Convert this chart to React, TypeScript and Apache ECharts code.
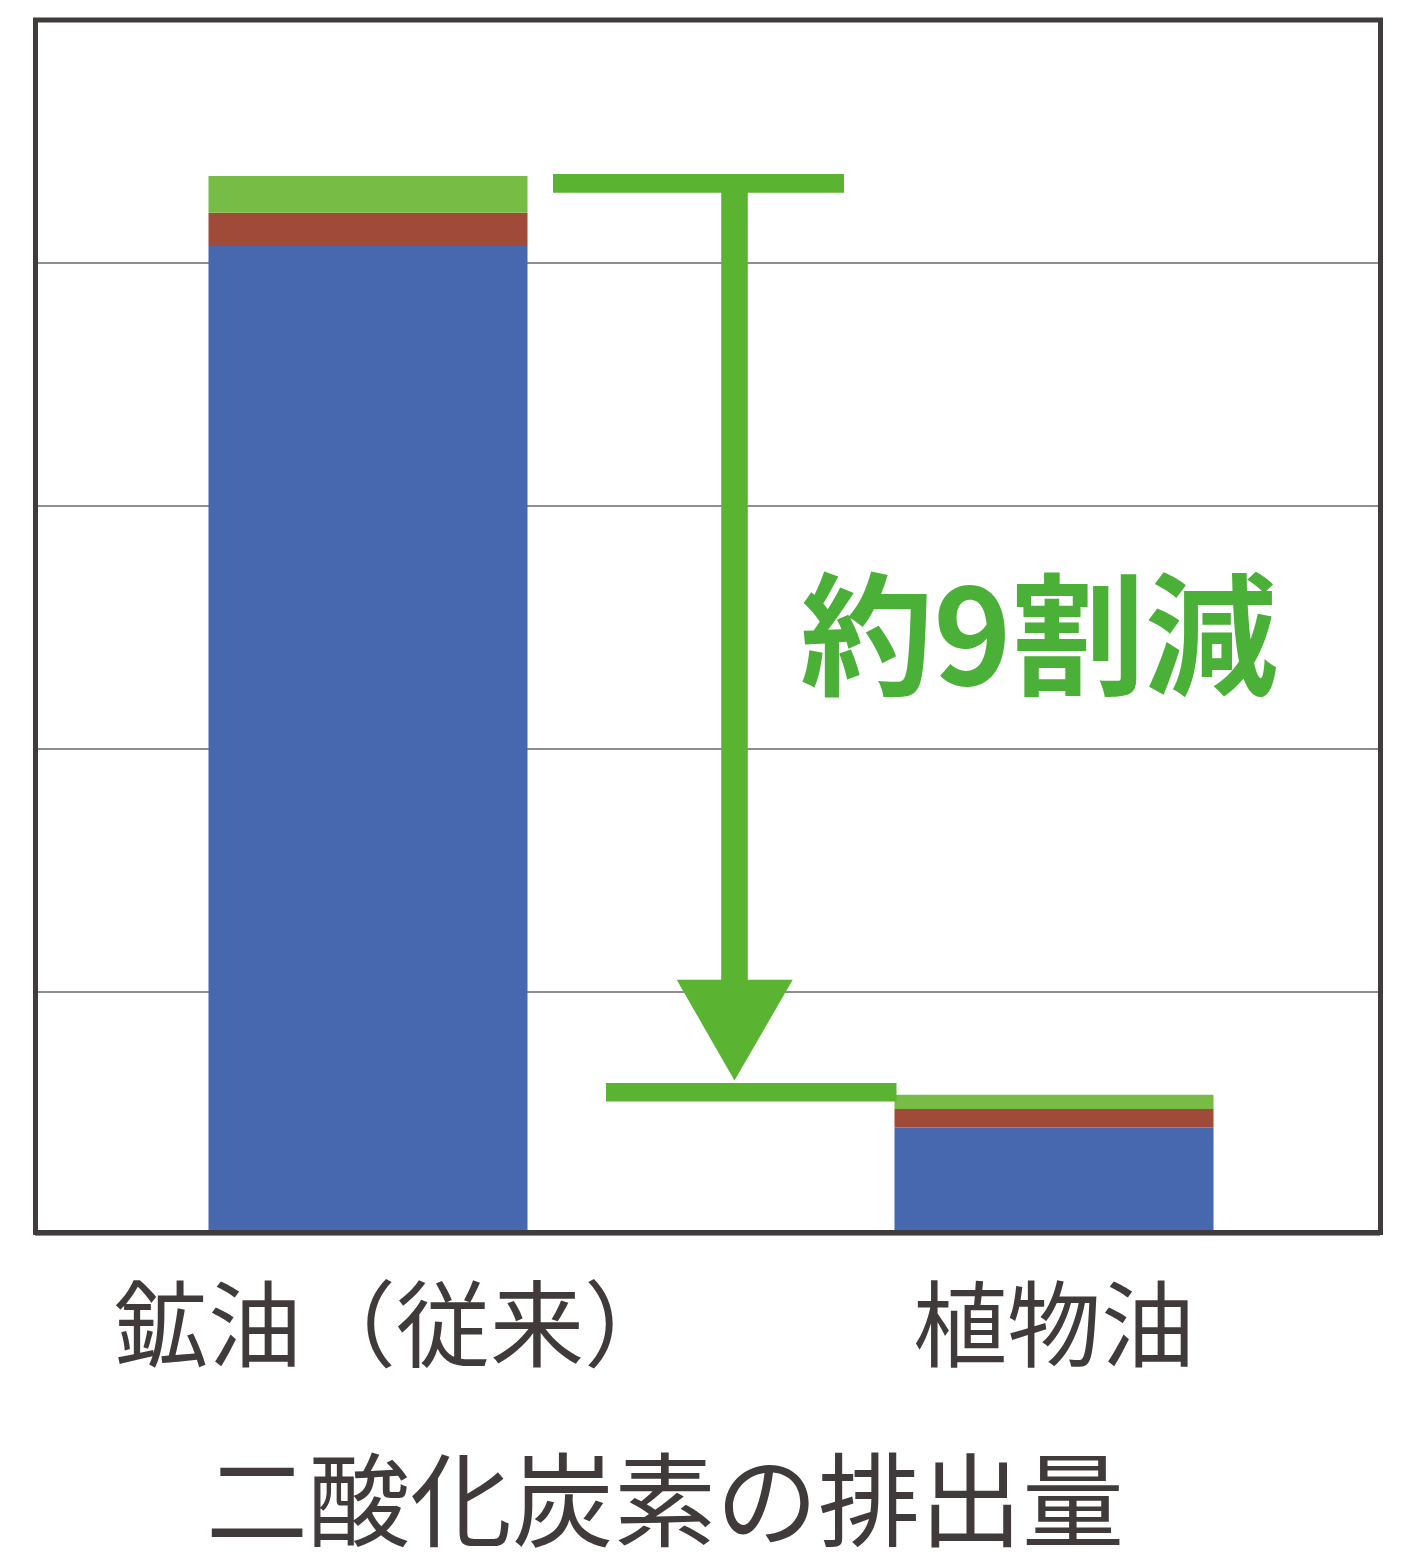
import React, { useEffect, useRef } from "react";
import * as echarts from "echarts";

const categories = ["鉱油（従来）", "植物油"];
const seriesBlue = [4.07, 0.442];
const seriesRed = [0.137, 0.077];
const seriesGreen = [0.151, 0.058];
const yMin = 0;
const yMax = 5;
const yInterval = 1;
const annotationText = "約9割減";
const titleText = "二酸化炭素の排出量";

const FONT = "'Noto Sans CJK JP', 'Noto Sans CJK SC', sans-serif";
const ARROW = "#5ab432";
const LABEL_COLOR = "#403b3a";

export default function App() {
  const ref = useRef<HTMLDivElement>(null);
  useEffect(() => {
    document.body.style.margin = "0";
    const chart = echarts.init(ref.current!, null, { renderer: "svg" });
    const totals = categories.map((_, i) => seriesBlue[i] + seriesRed[i] + seriesGreen[i]);
    const labelStyle = { fontSize: 94, lineHeight: 94, color: LABEL_COLOR, fontFamily: FONT };
    chart.setOption({
      animation: false,
      backgroundColor: "#ffffff",
      grid: [
        { left: 25, width: 1372, top: 20, height: 1215 },
        { left: 35, width: 1345, top: 20, height: 1215 },
      ],
      xAxis: [
        {
          type: "category",
          gridIndex: 0,
          data: categories,
          axisLine: { show: false },
          axisTick: { show: false },
          axisLabel: {
            interval: 0,
            hideOverlap: false,
            margin: 37,
            ...labelStyle,
            formatter: (v: string, i: number) => (i === 0 ? `{p|${v}}` : `{n|${v}}`),
            rich: {
              p: { ...labelStyle, padding: [0, 0, 0, 56] },
              n: { ...labelStyle },
            },
          },
        },
        { type: "category", gridIndex: 1, data: categories, show: false },
      ],
      yAxis: [
        { type: "value", gridIndex: 0, min: yMin, max: yMax, interval: yInterval, show: false },
        {
          type: "value",
          gridIndex: 1,
          min: yMin,
          max: yMax,
          interval: yInterval,
          axisLine: { show: false },
          axisTick: { show: false },
          axisLabel: { show: false },
          splitLine: { show: true, lineStyle: { color: "#8e8e8e", width: 2 } },
        },
      ],
      series: [
        { name: "A", type: "bar", stack: "t", data: seriesBlue, barWidth: 319, itemStyle: { color: "#4767af" } },
        { name: "B", type: "bar", stack: "t", data: seriesRed, barWidth: 319, itemStyle: { color: "#a04b39" } },
        { name: "C", type: "bar", stack: "t", data: seriesGreen, barWidth: 319, itemStyle: { color: "#77bc44" } },
      ],
    });

    const yTop = chart.convertToPixel({ gridIndex: 0 }, [0, totals[0]])[1];
    const yBot = chart.convertToPixel({ gridIndex: 0 }, [1, totals[1]])[1];
    const shaftX = 734.5;
    const tipY = yBot - 14.3;
    const headTop = tipY - 100.7;

    chart.setOption({
      graphic: [
        {
          type: "rect",
          z: 100,
          shape: { x: 35.5, y: 20, width: 1345, height: 1212.5 },
          style: { fill: "none", stroke: "#403c3b", lineWidth: 5 },
        },
        {
          type: "rect",
          z: 50,
          shape: { x: 553, y: yTop - 2, width: 291, height: 18.7 },
          style: { fill: ARROW },
        },
        {
          type: "rect",
          z: 50,
          shape: { x: shaftX - 13.3, y: yTop + 10, width: 26.6, height: headTop - yTop - 8 },
          style: { fill: ARROW },
        },
        {
          type: "polygon",
          z: 50,
          shape: { points: [[676.7, headTop], [792.7, headTop], [shaftX, tipY]] },
          style: { fill: ARROW },
        },
        {
          type: "rect",
          z: 50,
          shape: { x: 606, y: yBot - 11.7, width: 290.5, height: 18.4 },
          style: { fill: ARROW },
        },
        {
          type: "text",
          z: 50,
          x: 1039,
          y: 627,
          style: {
            text: annotationText,
            fill: "#4bb038",
            fontSize: 133,
            fontWeight: "bold",
            fontFamily: FONT,
            align: "center",
            verticalAlign: "middle",
          },
        },
        {
          type: "text",
          z: 50,
          x: 665,
          y: 1494,
          style: {
            text: titleText,
            fill: LABEL_COLOR,
            fontSize: 102,
            fontFamily: FONT,
            align: "center",
            verticalAlign: "middle",
          },
        },
      ],
    });
    return () => chart.dispose();
  }, []);
  return <div ref={ref} style={{ width: 1402, height: 1552 }} />;
}
